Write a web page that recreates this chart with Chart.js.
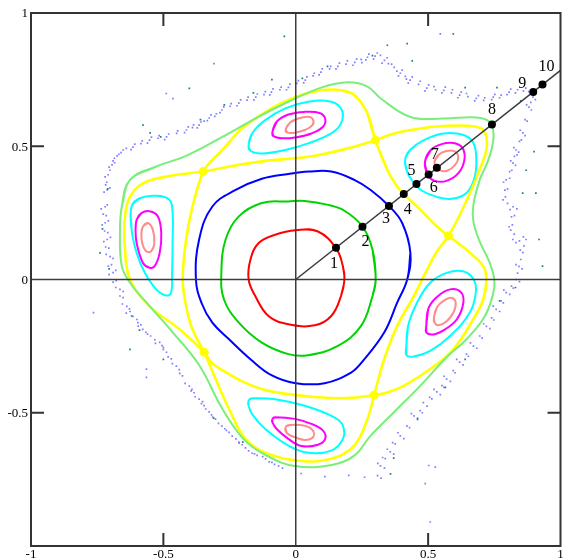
<!DOCTYPE html>
<html><head><meta charset="utf-8">
<script src="https://cdn.jsdelivr.net/npm/chart.js@4.4.1/dist/chart.umd.min.js"></script>
<style>html,body{margin:0;padding:0;background:#fff;}#wrap{width:565px;height:560px;}</style>
</head><body><div id="wrap"><canvas id="c" width="565" height="560"></canvas></div>
<script>
// ---------- tick labels ----------
const tickValues = [-1, -0.5, 0, 0.5, 1];
const tickLabels = ["-1", "-0.5", "0", "0.5", "1"];

// ---------- invariant curves around the centre ----------
const redCurve = [[0.184,0],[0.178,0.05],[0.153,0.116],[0.084,0.18],[0,0.185],[-0.078,0.168],[-0.140,0.137],[-0.171,0.075],[-0.178,0],[-0.153,-0.062],[-0.103,-0.137],[-0.028,-0.168],[0.072,-0.172],[0.134,-0.137],[0.171,-0.062]];
const greenCurve = [[0.302,0],[0.290,0.112],[0.252,0.199],[0.184,0.258],[0.122,0.280],[0.034,0.295],[-0.028,0.293],[-0.128,0.287],[-0.215,0.237],[-0.265,0.150],[-0.281,0.025],[-0.271,-0.075],[-0.215,-0.162],[-0.128,-0.237],[-0.028,-0.280],[0.047,-0.284],[0.159,-0.249],[0.246,-0.175],[0.290,-0.062]];
const blueCurve = [[0.421,0],[0.433,0.1],[0.402,0.212],[0.352,0.276],[0.283,0.336],[0.221,0.374],[0.134,0.405],[0.05,0.405],[-0.028,0.396],[-0.128,0.378],[-0.227,0.336],[-0.315,0.274],[-0.365,0.150],[-0.377,0],[-0.355,-0.09],[-0.315,-0.162],[-0.252,-0.224],[-0.17,-0.30],[-0.09,-0.36],[0,-0.389],[0.109,-0.389],[0.209,-0.349],[0.25,-0.31],[0.334,-0.199],[0.383,-0.087]];

// ---------- separatrix (yellow): hyperbolic points and arcs ----------
const xPoints = [[0.301,0.523],[-0.350,0.405],[-0.346,-0.273],[0.296,-0.434],[0.577,0.164]];
const arcOuterTop = [[0.271,0.623],[0.221,0.692],[0.171,0.710],[0.096,0.710],[-0.003,0.684],[-0.103,0.636],[-0.203,0.567],[-0.277,0.486],[-0.327,0.436]];
const arcInnerLeft = [[-0.390,0.274],[-0.414,0.150],[-0.427,0],[-0.414,-0.100],[-0.390,-0.187]];
const arcOuterBottom = [[-0.302,-0.374],[-0.252,-0.486],[-0.190,-0.598],[-0.115,-0.650],[0.009,-0.680],[0.134,-0.673],[0.221,-0.623],[0.271,-0.523]];
const arcInnerLowRight = [[0.309,-0.386],[0.334,-0.299],[0.383,-0.175],[0.446,-0.062],[0.496,0.037],[0.533,0.105]];
const arcOuterUpRight = [[0.620,0.243],[0.660,0.329],[0.697,0.419],[0.720,0.486],[0.716,0.550],[0.682,0.573],[0.558,0.576],[0.433,0.561],[0.365,0.546]];
const arcInnerTop = [[0.196,0.492],[0.072,0.464],[-0.003,0.455],[-0.115,0.445],[-0.240,0.426]];
const arcOuterLeft = [[-0.402,0.399],[-0.489,0.386],[-0.577,0.361],[-0.626,0.311],[-0.645,0.237],[-0.645,0.112],[-0.626,0],[-0.552,-0.100],[-0.439,-0.187]];
const arcInnerBottom = [[-0.316,-0.314],[-0.271,-0.344],[-0.196,-0.385],[-0.115,-0.415],[-0.028,-0.430],[0.072,-0.441],[0.196,-0.445]];
const arcOuterLowRight = [[0.346,-0.424],[0.408,-0.399],[0.508,-0.336],[0.595,-0.262],[0.670,-0.150],[0.708,-0.075],[0.720,0],[0.708,0.050],[0.658,0.100]];
const arcInnerUpRight = [[0.533,0.199],[0.470,0.262],[0.408,0.321],[0.383,0.349],[0.346,0.411]];

// ---------- outermost regular curve (light green) ----------
const outerGreen = [[-0.626,0.374],[-0.527,0.424],[-0.414,0.464],[-0.277,0.535],[-0.153,0.604],[-0.028,0.667],[0.096,0.720],[0.196,0.740],[0.271,0.724],[0.320,0.680],[0.433,0.610],[0.558,0.604],[0.682,0.608],[0.732,0.592],[0.747,0.548],[0.739,0.486],[0.720,0.430],[0.695,0.374],[0.671,0.280],[0.671,0.217],[0.695,0.142],[0.731,0.067],[0.750,0],[0.745,-0.056],[0.712,-0.142],[0.645,-0.224],[0.570,-0.292],[0.470,-0.399],[0.371,-0.498],[0.283,-0.586],[0.221,-0.661],[0.140,-0.695],[-0.003,-0.700],[-0.115,-0.658],[-0.196,-0.600],[-0.277,-0.486],[-0.365,-0.321],[-0.464,-0.199],[-0.552,-0.100],[-0.626,-0.012],[-0.657,0.050],[-0.664,0.175],[-0.657,0.274]];

// ---------- island chain (5 islands) ----------
const cyanTop = [[-0.178,0.505],[-0.165,0.548],[-0.115,0.598],[-0.040,0.642],[0.047,0.667],[0.134,0.667],[0.174,0.636],[0.171,0.586],[0.134,0.548],[0.047,0.511],[-0.040,0.486],[-0.128,0.473],[-0.172,0.483]];
const magentaTop = [[-0.088,0.554],[-0.072,0.592],[-0.028,0.619],[0.034,0.629],[0.090,0.625],[0.111,0.604],[0.103,0.573],[0.059,0.548],[-0.003,0.533],[-0.053,0.530],[-0.084,0.538]];
const salmonTop = [[-0.038,0.563],[-0.022,0.588],[0.009,0.604],[0.047,0.611],[0.065,0.601],[0.063,0.579],[0.034,0.561],[-0.003,0.551],[-0.031,0.551]];

const cyanUpRight = [[0.413,0.449],[0.432,0.486],[0.484,0.523],[0.558,0.548],[0.634,0.542],[0.671,0.512],[0.682,0.449],[0.675,0.381],[0.645,0.325],[0.589,0.303],[0.533,0.310],[0.477,0.333],[0.443,0.366],[0.421,0.404]];
const magentaUpRight = [[0.488,0.441],[0.510,0.486],[0.551,0.508],[0.596,0.512],[0.630,0.493],[0.637,0.449],[0.615,0.400],[0.570,0.370],[0.525,0.370],[0.499,0.392]];
const salmonUpRight = [[0.524,0.437],[0.539,0.467],[0.569,0.482],[0.599,0.482],[0.614,0.460],[0.602,0.430],[0.572,0.408],[0.542,0.411]];

const cyanLowRight = [[0.418,-0.249],[0.424,-0.175],[0.458,-0.087],[0.508,-0.012],[0.570,0.025],[0.632,0.031],[0.672,0],[0.680,-0.050],[0.657,-0.125],[0.583,-0.212],[0.508,-0.268],[0.446,-0.289],[0.418,-0.284]];
const magentaLowRight = [[0.493,-0.175],[0.500,-0.112],[0.529,-0.069],[0.583,-0.037],[0.626,-0.050],[0.632,-0.093],[0.608,-0.150],[0.564,-0.187],[0.521,-0.206],[0.493,-0.199]];
const salmonLowRight = [[0.522,-0.142],[0.533,-0.105],[0.559,-0.079],[0.589,-0.069],[0.604,-0.086],[0.596,-0.123],[0.570,-0.157],[0.540,-0.172],[0.524,-0.161]];

const cyanLeft = [[-0.620,0.274],[-0.589,0.305],[-0.527,0.314],[-0.477,0.299],[-0.465,0.249],[-0.465,0.150],[-0.467,0.025],[-0.471,-0.050],[-0.490,-0.060],[-0.527,-0.037],[-0.570,0.025],[-0.601,0.100],[-0.620,0.187]];
const magentaLeft = [[-0.601,0.224],[-0.583,0.249],[-0.552,0.256],[-0.521,0.237],[-0.508,0.175],[-0.514,0.100],[-0.533,0.050],[-0.552,0.044],[-0.577,0.062],[-0.601,0.137],[-0.605,0.187]];
const salmonLeft = [[-0.577,0.199],[-0.558,0.212],[-0.540,0.187],[-0.534,0.137],[-0.546,0.106],[-0.565,0.106],[-0.580,0.137],[-0.583,0.174]];

const cyanBottom = [[-0.178,-0.454],[-0.165,-0.446],[-0.078,-0.449],[0.034,-0.474],[0.146,-0.517],[0.178,-0.548],[0.178,-0.598],[0.134,-0.642],[0.047,-0.650],[-0.028,-0.623],[-0.115,-0.561],[-0.165,-0.505],[-0.178,-0.474]];
const magentaBottom = [[-0.088,-0.523],[-0.078,-0.517],[-0.003,-0.523],[0.059,-0.542],[0.103,-0.567],[0.111,-0.598],[0.084,-0.620],[0.022,-0.625],[-0.028,-0.598],[-0.072,-0.561],[-0.088,-0.536]];
const salmonBottom = [[-0.038,-0.554],[-0.022,-0.546],[0.034,-0.549],[0.065,-0.567],[0.065,-0.592],[0.034,-0.602],[-0.003,-0.592],[-0.034,-0.576]];

// ---------- chaotic orbit dots ----------
const chaosBlue = [
[-0.720,0.273],[-0.735,0.265],[-0.712,0.280],[-0.720,0.213],[-0.731,0.205],[-0.708,0.220],[-0.712,0.150],[-0.725,0.142],[-0.700,0.158],
[-0.701,0.086],[-0.716,0.094],[-0.690,0.079],[-0.690,0.026],[-0.705,0.018],[-0.680,0.034],[-0.664,-0.037],[-0.680,-0.030],[-0.652,-0.045],
[-0.638,-0.101],[-0.655,-0.092],[-0.628,-0.110],[-0.615,-0.138],[-0.600,-0.150],[-0.578,-0.187],[-0.595,-0.175],[-0.566,-0.198],
[-0.514,-0.236],[-0.532,-0.226],[-0.505,-0.248],[-0.488,-0.273],[-0.500,-0.262],[-0.451,-0.325],[-0.466,-0.316],[-0.440,-0.338],
[-0.402,-0.400],[-0.418,-0.390],[-0.392,-0.412],[-0.365,-0.449],[-0.380,-0.440],[-0.352,-0.458],[-0.327,-0.497],[-0.340,-0.486],[-0.318,-0.508],
[-0.279,-0.550],[-0.292,-0.540],[-0.268,-0.560],[-0.226,-0.598],[-0.240,-0.588],[-0.215,-0.610],[-0.178,-0.643],[-0.190,-0.632],[-0.165,-0.652],
[-0.114,-0.673],[-0.125,-0.665],[-0.100,-0.684],[-0.065,-0.699],[-0.050,-0.708],[0.02,-0.728],[0.11,-0.74],[0.2,-0.735],[0.26,-0.742],
[0.309,-0.736],[0.322,-0.745],[0.320,-0.699],[0.335,-0.708],[0.310,-0.690],[0.357,-0.647],[0.370,-0.655],[0.346,-0.637],
[0.395,-0.587],[0.408,-0.597],[0.386,-0.575],[0.447,-0.512],[0.460,-0.520],[0.437,-0.503],[0.496,-0.475],[0.482,-0.462],
[0.533,-0.422],[0.546,-0.432],[0.522,-0.412],[0.570,-0.374],[0.584,-0.382],[0.560,-0.363],[0.619,-0.310],[0.632,-0.320],[0.608,-0.300],
[0.671,-0.250],[0.684,-0.258],[0.660,-0.238],[0.720,-0.176],[0.733,-0.184],[0.710,-0.166],[0.757,-0.112],[0.770,-0.120],[0.746,-0.100],
[0.795,-0.049],[0.808,-0.056],[0.786,-0.040],[0.832,0],[0.845,-0.008],[0.843,0.049],[0.855,0.040],[0.832,0.056],[0.858,0.101],[0.848,0.110],
[0.870,0.150],[0.860,0.160],[0.845,0.145],[0.832,0.138],[0.820,0.150],[0.806,0.198],[0.818,0.205],[0.812,0.185],[0.821,0.273],[0.835,0.265],[0.810,0.262],
[0.783,0.299],[0.792,0.310],[0.795,0.374],[0.808,0.380],[0.785,0.365],[0.821,0.437],[0.830,0.428],[0.812,0.445],[0.832,0.486],[0.842,0.478],[0.824,0.495],
[0.858,0.550],[0.866,0.540],[0.848,0.560],[0.881,0.647],[0.890,0.636],[0.872,0.655],[0.896,0.684],[0.905,0.675],
[0.869,0.718],[0.860,0.708],[0.806,0.703],[0.812,0.714],[0.798,0.694],[0.746,0.684],[0.752,0.695],[0.740,0.675],[0.682,0.680],[0.690,0.690],[0.676,0.670],
[0.619,0.692],[0.625,0.703],[0.612,0.682],[0.559,0.710],[0.565,0.722],[0.552,0.700],[0.495,0.718],[0.502,0.730],[0.488,0.708],
[0.432,0.748],[0.440,0.760],[0.425,0.737],[0.395,0.774],[0.402,0.786],[0.388,0.764],[0.372,0.796],[0.362,0.808],[0.335,0.822],[0.345,0.832],[0.326,0.812],
[0.320,0.841],[0.308,0.850],[0.271,0.834],[0.276,0.846],[0.265,0.824],[0.223,0.815],[0.230,0.827],[0.216,0.804],[0.159,0.800],[0.165,0.812],[0.152,0.790],
[0.095,0.778],[0.100,0.790],[0.088,0.768],[0.036,0.748],[0.042,0.760],[0.030,0.738],[-0.028,0.721],[-0.022,0.733],[-0.035,0.712],
[-0.092,0.703],[-0.086,0.715],[-0.098,0.693],[-0.151,0.684],[-0.145,0.696],[-0.158,0.674],[-0.215,0.662],[-0.208,0.674],[-0.222,0.652],
[-0.279,0.636],[-0.272,0.648],[-0.286,0.626],[-0.327,0.606],[-0.320,0.618],[-0.334,0.596],[-0.365,0.579],[-0.358,0.591],[-0.372,0.569],
[-0.413,0.561],[-0.406,0.573],[-0.420,0.551],[-0.488,0.535],[-0.480,0.546],[-0.495,0.525],[-0.552,0.523],[-0.545,0.534],[-0.560,0.512],
[-0.615,0.497],[-0.608,0.508],[-0.622,0.487],[-0.652,0.486],[-0.660,0.476],[-0.675,0.464],[-0.685,0.455],[-0.694,0.430],[-0.705,0.422],[-0.684,0.438],
[-0.709,0.393],[-0.720,0.385],[-0.712,0.336],[-0.724,0.328],[-0.702,0.344],
[-0.489,0.698],[-0.464,0.679],[-0.309,0.810],[0.546,0.922],[-0.764,-0.124],[-0.564,-0.336],[-0.564,-0.367],[0.502,-0.698],[0.527,-0.704],[0.489,-0.766],[0.508,-0.910]
];
const chaosBlueMore = [
[-0.727,0.245],[-0.716,0.240],[-0.722,0.182],[-0.710,0.176],[-0.706,0.118],[-0.718,0.122],[-0.696,0.056],[-0.708,0.050],[-0.678,-0.004],[-0.690,-0.010],
[-0.652,-0.068],[-0.664,-0.062],[-0.626,-0.120],[-0.640,-0.126],[-0.596,-0.162],[-0.585,-0.170],[-0.548,-0.212],[-0.560,-0.205],[-0.530,-0.240],[-0.500,-0.255],
[-0.470,-0.298],[-0.482,-0.290],[-0.428,-0.362],[-0.438,-0.352],[-0.384,-0.425],[-0.395,-0.418],[-0.346,-0.473],[-0.356,-0.466],[-0.303,-0.524],[-0.314,-0.516],
[-0.252,-0.574],[-0.262,-0.566],[-0.202,-0.620],[-0.214,-0.614],[-0.146,-0.660],[-0.156,-0.654],[-0.090,-0.686],[-0.080,-0.694],
[0.338,-0.672],[0.328,-0.668],[0.376,-0.617],[0.366,-0.612],[0.420,-0.550],[0.430,-0.556],[0.470,-0.492],[0.478,-0.500],[0.514,-0.448],[0.506,-0.442],
[0.552,-0.398],[0.560,-0.405],[0.595,-0.342],[0.602,-0.350],[0.645,-0.280],[0.652,-0.288],[0.695,-0.212],[0.704,-0.220],[0.740,-0.144],[0.748,-0.152],
[0.776,-0.080],[0.784,-0.088],[0.815,-0.025],[0.822,-0.032],[0.838,0.024],[0.850,0.075],[0.862,0.126],[0.825,0.170],[0.815,0.235],[0.826,0.240],
[0.800,0.286],[0.790,0.335],[0.800,0.340],[0.808,0.405],[0.816,0.410],[0.826,0.462],[0.836,0.468],[0.845,0.518],[0.852,0.524],[0.866,0.600],[0.874,0.594],[0.888,0.665],
[0.880,0.705],[0.838,0.712],[0.830,0.700],[0.776,0.692],[0.770,0.682],[0.714,0.682],[0.710,0.672],[0.650,0.686],[0.645,0.698],[0.588,0.700],[0.592,0.712],
[0.528,0.712],[0.522,0.724],[0.464,0.732],[0.470,0.744],[0.414,0.762],[0.418,0.752],[0.382,0.782],[0.350,0.810],[0.300,0.838],[0.294,0.828],[0.247,0.826],
[0.250,0.814],[0.190,0.808],[0.195,0.820],[0.128,0.790],[0.132,0.800],[0.066,0.764],[0.070,0.774],[0.004,0.736],[0.010,0.746],[-0.060,0.712],[-0.055,0.722],
[-0.120,0.694],[-0.115,0.705],[-0.184,0.673],[-0.180,0.684],[-0.248,0.650],[-0.244,0.660],[-0.300,0.622],[-0.306,0.612],[-0.346,0.594],[-0.390,0.570],
[-0.386,0.580],[-0.450,0.548],[-0.446,0.558],[-0.520,0.530],[-0.516,0.540],[-0.585,0.510],[-0.580,0.520],[-0.640,0.492],[-0.668,0.470],[-0.690,0.445],
[-0.702,0.410],[-0.714,0.365],[-0.718,0.355]
];
const chaosTeal = [[-0.402,0.717],[-0.577,0.579],[-0.090,0.750],[-0.043,0.912],[0.346,0.879],[0.421,0.885],[0.595,0.922],[0.907,0.324],[0.932,0.050],[0.919,0.150],[0.857,0.324],[0.358,-0.729],[-0.626,-0.262],[-0.620,-0.137],[-0.739,0.100],
[-0.55,0.55],[-0.51,0.535],[-0.36,0.60],[-0.27,0.655],[-0.16,0.70],[0.025,0.755],[0.12,0.80],[0.29,0.84],[0.44,0.82],[0.64,0.72],[0.76,0.72],[0.85,0.67],[0.9,0.48],[0.87,0.41],[0.83,-0.03],[0.77,-0.08],[0.64,-0.3],[0.565,-0.405],[0.46,-0.525],[0.37,-0.67],[-0.2,-0.61],[-0.31,-0.52],[-0.5,-0.30],[-0.59,-0.19],[-0.705,0.04],[-0.73,0.19],[-0.71,0.34]];

// ---------- the ray from the origin and its marked points ----------
const rayX = [0, 1];
const rayY = [0, 0.785];
const markX = [0.152, 0.252, 0.352, 0.408, 0.456, 0.502, 0.533, 0.741, 0.897, 0.932];
const markY = [0.119, 0.198, 0.276, 0.321, 0.358, 0.394, 0.419, 0.582, 0.704, 0.732];
const markLabels = ["1","2","3","4","5","6","7","8","9","10"];

// ---------- build datasets ----------
const P = a => a.map(([x,y]) => ({x,y}));
function closed(a){ const p = P(a); return [p[p.length-1], ...p, p[0], p[1]]; }
const [X1,X2,X3,X4,X5] = xPoints;
const yellowPath = [X1, ...arcOuterTop, X2, ...arcInnerLeft, X3, ...arcOuterBottom, X4, ...arcInnerLowRight, X5, ...arcOuterUpRight,
                    X1, ...arcInnerTop, X2, ...arcOuterLeft, X3, ...arcInnerBottom, X4, ...arcOuterLowRight, X5, ...arcInnerUpRight];

function curve(a, color, w){ return {data: closed(a), showLine:true, borderColor:color, borderWidth:w, pointRadius:0, tension:0.4, fill:false, order:5}; }

const datasets = [
  {data:P(chaosBlue.concat(chaosBlueMore)), pointRadius:1.2, pointStyle:'rect', backgroundColor:'#7f7fff', borderWidth:0, order:9},
  {data:P(chaosTeal), pointRadius:1.2, pointStyle:'rect', backgroundColor:'#1f8080', borderWidth:0, order:8},
  curve(outerGreen, '#7aee7a', 2),
  curve(yellowPath, '#ffff00', 2.6),
  {data:P(xPoints), pointRadius:4.5, backgroundColor:'#ffff00', borderWidth:0, order:5},
  curve(redCurve, '#ff0000', 2),
  curve(greenCurve, '#00d400', 2),
  curve(blueCurve, '#0000ff', 2),
  curve(cyanTop, '#00ffff', 2), curve(magentaTop, '#ff00ff', 2), curve(salmonTop, '#ff8c8c', 2),
  curve(cyanUpRight, '#00ffff', 2), curve(magentaUpRight, '#ff00ff', 2), curve(salmonUpRight, '#ff8c8c', 2),
  curve(cyanLowRight, '#00ffff', 2), curve(magentaLowRight, '#ff00ff', 2), curve(salmonLowRight, '#ff8c8c', 2),
  curve(cyanLeft, '#00ffff', 2), curve(magentaLeft, '#ff00ff', 2), curve(salmonLeft, '#ff8c8c', 2),
  curve(cyanBottom, '#00ffff', 2), curve(magentaBottom, '#ff00ff', 2), curve(salmonBottom, '#ff8c8c', 2),
  {data: rayX.map((x,i)=>({x, y:rayY[i]})), showLine:true, borderColor:'#3a3a3a', borderWidth:1.5, pointRadius:0, order:2},
  {data: markX.map((x,i)=>({x, y:markY[i]})), pointRadius:4, backgroundColor:'#000', borderWidth:0, order:1}
];

const labelOffsets = [[-2,16],[3,15],[-3,13],[4,16],[-5,-13],[5,13],[-2,-13],[0,-15],[-11,-8],[4,-18]];

const framePlugin = {
  id:'frame',
  afterDatasetsDraw(chart){
    const {ctx, chartArea:a, scales:{x, y}} = chart;
    const x0 = x.getPixelForValue(0), y0 = y.getPixelForValue(0);
    ctx.save();
    ctx.strokeStyle = '#3c3c3c'; ctx.lineWidth = 1.5;
    ctx.beginPath();
    ctx.moveTo(a.left, y0); ctx.lineTo(a.right, y0);
    ctx.moveTo(x0, a.top); ctx.lineTo(x0, a.bottom);
    ctx.stroke();
    ctx.restore();
  },
  afterDraw(chart){
    const {ctx, chartArea:a, scales:{x, y}} = chart;
    ctx.save();
    ctx.strokeStyle = '#333'; ctx.lineWidth = 2;
    ctx.strokeRect(a.left, a.top, a.right - a.left, a.bottom - a.top);
    ctx.beginPath();
    const L = 13;
    tickValues.forEach(v => {
      if (Math.abs(v) !== 0.5) return;
      const px = x.getPixelForValue(v), py = y.getPixelForValue(v);
      ctx.moveTo(px, a.top); ctx.lineTo(px, a.top + L);
      ctx.moveTo(px, a.bottom); ctx.lineTo(px, a.bottom - L);
      ctx.moveTo(a.left, py); ctx.lineTo(a.left + L, py);
      ctx.moveTo(a.right, py); ctx.lineTo(a.right - L, py);
    });
    ctx.stroke();
    ctx.fillStyle = '#000';
    ctx.font = '13px "Liberation Serif", "Times New Roman", serif';
    ctx.textAlign = 'right'; ctx.textBaseline = 'middle';
    tickValues.forEach((v,i) => {
      if (v === -1) return;
      ctx.fillText(tickLabels[i], a.left - 3, y.getPixelForValue(v) + 1);
    });
    ctx.textAlign = 'center'; ctx.textBaseline = 'top';
    tickValues.forEach((v,i) => {
      ctx.fillText(tickLabels[i], x.getPixelForValue(v), a.bottom + 2);
    });
    ctx.font = '16px "Liberation Serif", "Times New Roman", serif';
    ctx.textAlign = 'center'; ctx.textBaseline = 'middle';
    markX.forEach((mx,i) => {
      const px = x.getPixelForValue(mx), py = y.getPixelForValue(markY[i]);
      ctx.fillText(markLabels[i], px + labelOffsets[i][0], py + labelOffsets[i][1]);
    });
    ctx.restore();
  }
};

new Chart(document.getElementById('c'), {
  type:'scatter',
  data:{datasets},
  options:{
    responsive:false, animation:false, events:[],
    layout:{padding:{left:31, top:13, right:1, bottom:14}},
    plugins:{legend:{display:false}, tooltip:{enabled:false}},
    scales:{
      x:{type:'linear', min:-1, max:1, display:false},
      y:{type:'linear', min:-1, max:1, display:false}
    }
  },
  plugins:[framePlugin]
});
</script></body></html>
